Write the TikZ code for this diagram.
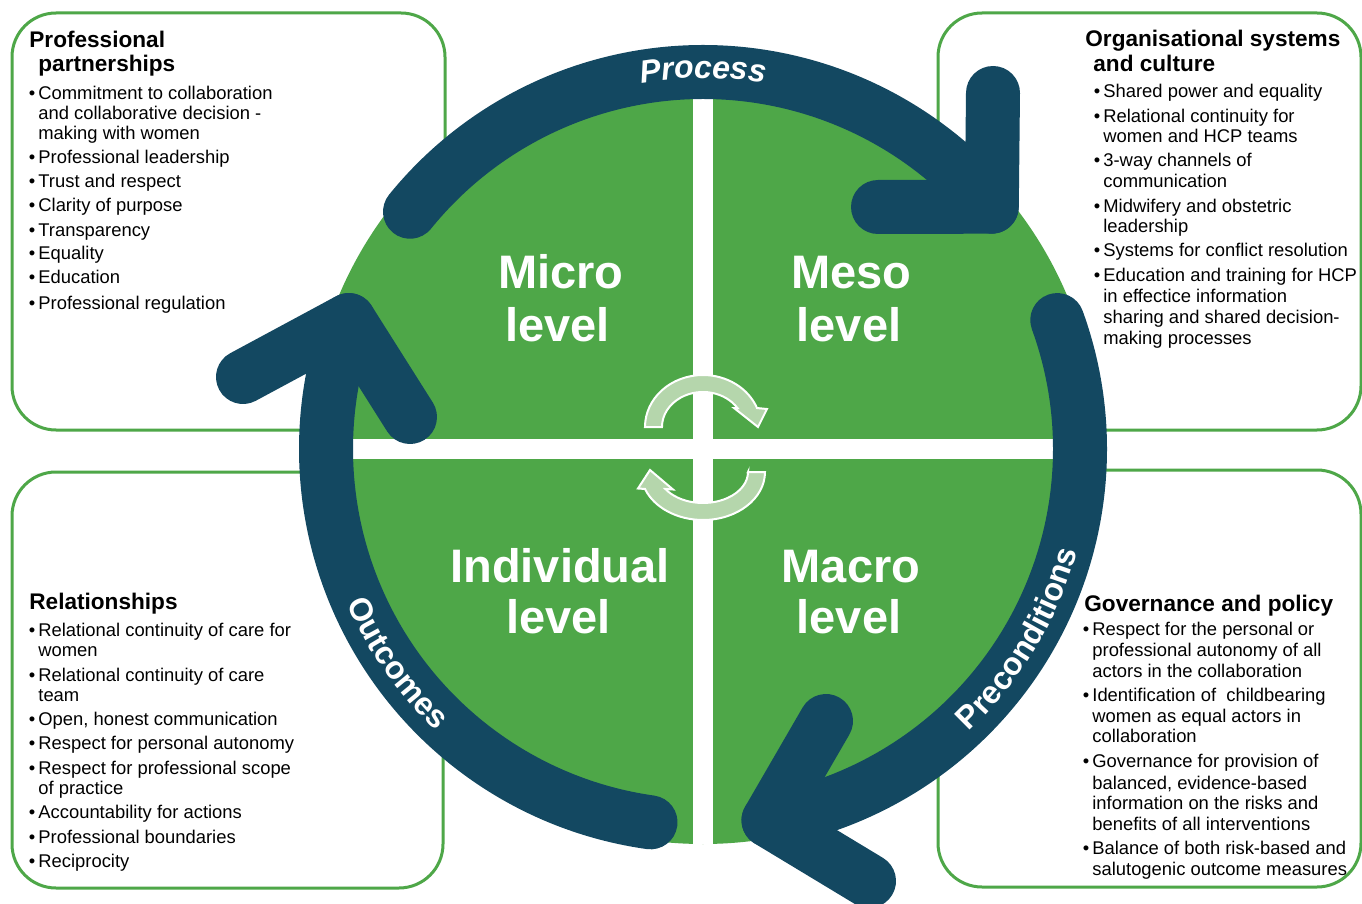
\documentclass[tikz,border=0pt]{standalone}
\usepackage{fontspec}
\setmainfont{Liberation Sans}
\usetikzlibrary{calc,decorations.text}

\definecolor{navy}{RGB}{19,72,97}
\definecolor{leaf}{RGB}{78,167,72}
\definecolor{pale}{RGB}{181,214,172}

\newcommand{\bodyfont}{\fontsize{9.2pt}{10pt}\selectfont}
\newcommand{\headfont}{\fontsize{11.3pt}{12pt}\selectfont\bfseries}
\newcommand{\levelfont}{\fontsize{23.5pt}{24pt}\selectfont\bfseries}
\newcommand{\bandfont}{\fontsize{16pt}{16pt}\selectfont\bfseries\color{white}}
\newcommand{\bl}{\llap{•\hspace{1.6pt}}}

\begin{document}
\begin{tikzpicture}[x=0.5pt,y=-0.5pt,
  panel/.style={draw=leaf, line width=1.5pt, fill=white, rounded corners=22pt},
  band/.style={draw=navy, line width=27pt, line cap=round, line join=round},
  turn/.style={fill=pale, draw=white, line width=1pt, line join=miter},
  lvl/.style={text=white, font=\levelfont, anchor=base, inner sep=0pt},
  head/.style={font=\headfont, anchor=base west, inner sep=0pt},
  txt/.style={font=\bodyfont, anchor=base west, inner sep=0pt}
]
% canvas
\fill[white] (0,0) rectangle (1362,904);
\useasboundingbox (0,0) rectangle (1362,904);

% the four text panels
\draw[panel] (12,13) rectangle (445,430);
\draw[panel] (938,13) rectangle (1361,430);
\draw[panel] (12,472) rectangle (443,888);
\draw[panel] (938,470) rectangle (1361,887);

% green disc split into four quadrants
\coordinate (C) at (703,449);
\fill[leaf] (C) circle[radius=395];
\begin{scope}
  \clip (C) circle[radius=395];
  \fill[white] (693,40) rectangle (713,860);
  \fill[white] (300,439) rectangle (1106,459);
\end{scope}

% two small cycling arrows at the centre
\filldraw[turn] (645,427) arc[start angle=180, end angle=338.6, x radius=58, y radius=52]
  -- (767,409) -- (758,427) -- (734,408) -- (737.4,408)
  arc[start angle=327.1, end angle=180, x radius=41, y radius=35] -- cycle;
\filldraw[turn] (748,472) -- (765,472)
  arc[start angle=0, end angle=159.3, x radius=62, y radius=48]
  -- (638,488.5) -- (650,470) -- (673,489.5) -- (665.4,489)
  arc[start angle=146.7, end angle=0, x radius=45, y radius=31] -- cycle;

% quadrant labels
\node[lvl] (micro1) at (561,288) {Micro};
\node[lvl] (micro2) at (557.5,342) {level};
\node[lvl] (meso1) at (851.5,288) {Meso};
\node[lvl] (meso2) at (849,342) {level};
\node[lvl] (indiv1) at (560,582) {Individual};
\node[lvl] (indiv2) at (558.5,633) {level};
\node[lvl] (macro1) at (851,582) {Macro};
\node[lvl] (macro2) at (849,633) {level};

% the three curved arrows of the cycle
\draw[band] ($(C)+(-141:377)$) arc[start angle=-141, end angle=-40, radius=377] coordinate (pApex);
\coordinate (pA) at (993,93);
\coordinate (pB) at (878,207);
\draw[band] (pA) -- (pApex) -- (pB);

\draw[band] ($(C)+(-20:377)$) arc[start angle=-20, end angle=80, radius=377] coordinate (cApex);
\coordinate (cA) at (826,721);
\coordinate (cB) at (869,881);
\draw[band] (cA) -- (cApex) -- (cB);

\draw[band] ($(C)+(98:377)$) arc[start angle=98, end angle=200, radius=377] coordinate (oApex);
\coordinate (oA) at (243,377);
\coordinate (oB) at (410,417);
\draw[band] (oA) -- (oApex) -- (oB);

% words running along the arrows
\path[decorate, decoration={text along path, text align=center,
    text={|\bandfont\itshape|Process}}]
  ($(C)+(-130:371)$) arc[start angle=-130, end angle=-50, radius=371];
\path[decorate, decoration={text along path, text align=center,
    text={|\bandfont|Preconditions}}]
  ($(C)+(66:388)$) arc[start angle=66, end angle=-4, radius=388];
\path[decorate, decoration={text along path, text align=center,
    text={|\bandfont|Outcomes}}]
  ($(C)+(180:388)$) arc[start angle=180, end angle=110, radius=388];

% top-left panel
\node[head] (tlh1) at (29,48) {Professional};
\node[head] (tlh2) at (38,72) {partnerships};
\foreach \y/\t [count=\i] in {
  100/{\bl Commitment to collaboration},
  120/{and collaborative decision -},
  140/{making with women},
  164/{\bl Professional leadership},
  188/{\bl Trust and respect},
  212/{\bl Clarity of purpose},
  236/{\bl Transparency},
  260/{\bl Equality},
  284/{\bl Education},
  309/{\bl Professional regulation}}
  \node[txt] (tl\i) at (38,\y) {\t};

% top-right panel
\node[head] (trh1) at (1085,47) {Organisational systems};
\node[head] (trh2) at (1093,72) {and culture};
\foreach \y/\t [count=\i] in {
  98/{\bl Shared power and equality},
  122.5/{\bl Relational continuity for},
  143/{women and HCP teams},
  167/{\bl 3-way channels of},
  187.5/{communication},
  212.5/{\bl Midwifery and obstetric},
  232.5/{leadership},
  256.5/{\bl Systems for conflict resolution},
  281/{\bl Education and training for HCP},
  302/{in effectice information},
  323/{sharing and shared decision-},
  344/{making processes}}
  \node[txt] (tr\i) at (1103,\y) {\t};

% bottom-left panel
\node[head] (blh1) at (29,609) {Relationships};
\foreach \y/\t [count=\i] in {
  636/{\bl Relational continuity of care for},
  656/{women},
  681/{\bl Relational continuity of care},
  701/{team},
  725/{\bl Open, honest communication},
  749/{\bl Respect for personal autonomy},
  774/{\bl Respect for professional scope},
  794/{of practice},
  818/{\bl Accountability for actions},
  843/{\bl Professional boundaries},
  867.5/{\bl Reciprocity}}
  \node[txt] (bl\i) at (38,\y) {\t};

% bottom-right panel
\node[head] (brh1) at (1084,611.5) {Governance and policy};
\foreach \y/\t [count=\i] in {
  635.5/{\bl Respect for the personal or},
  656.5/{professional autonomy of all},
  677/{actors in the collaboration},
  701/{\bl Identification of\ \ childbearing},
  722.5/{women as equal actors in},
  742.5/{collaboration},
  767.5/{\bl Governance for provision of},
  789/{balanced, evidence-based},
  809.5/{information on the risks and},
  830/{benefits of all interventions},
  854.5/{\bl Balance of both risk-based and},
  875/{salutogenic outcome measures}}
  \node[txt] (br\i) at (1092,\y) {\t};
\end{tikzpicture}
\end{document}
